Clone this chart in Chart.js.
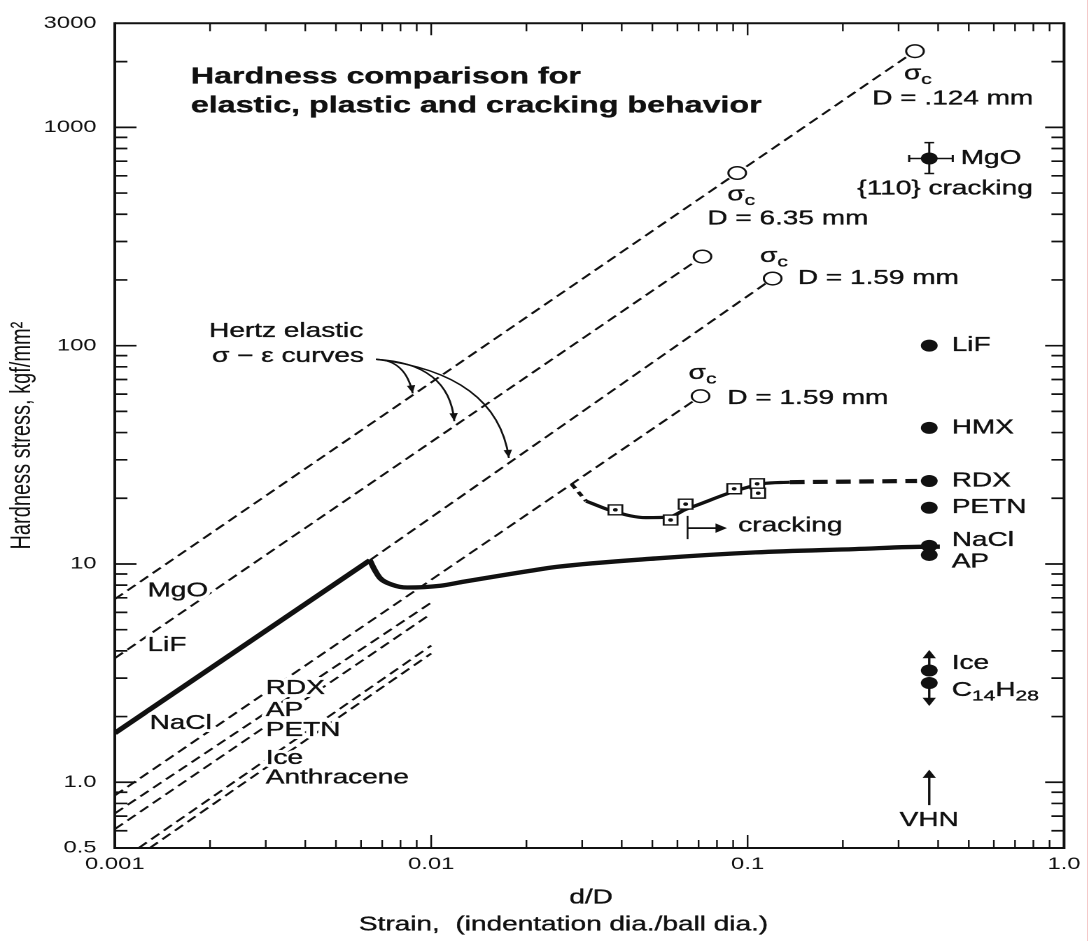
<!DOCTYPE html>
<html>
<head>
<meta charset="utf-8">
<title>Hardness comparison</title>
<script src="https://cdn.jsdelivr.net/npm/chart.js@4.4.1/dist/chart.umd.min.js"></script>
<style>
  html, body { margin: 0; padding: 0; background: #fff; overflow: hidden; }
  /* the scanned figure is stretched sideways, so the canvas is too */
  #wrap { width: 778px; height: 941px; transform: scaleX(1.3997); transform-origin: 0 0; }
  #edge { position: absolute; left: 1087px; top: 0; width: 1px; height: 941px; background: #f4c9c9; }
</style>
</head>
<body>
<div id="wrap"><canvas id="chart" width="778" height="941"></canvas></div>
<div id="edge"></div>
<script>
// axis ticks
const xTickValues = [0.001, 0.01, 0.1, 1];
const xTickLabels = ['0.001', '0.01', '0.1', '1.0'];
const yTickValues = [0.5, 1, 10, 100, 1000, 3000];
const yTickLabels = ['0.5', '1.0', '10', '100', '1000', '3000'];

// hertz elastic lines, [d/D, stress kgf/mm2]
const hertzMgO = [[0.001, 6.9], [0.338, 2234]];
const hertzLiF = [[0.001, 3.7], [0.072, 256]];
const hertzNaCl = [[0.0064, 10.4], [0.12, 203]];
const hertzRDX = [[0.001, 0.87], [0.071, 58.7]];
const hertzAP = [[0.001, 0.72], [0.01, 6.65]];
const hertzPETN = [[0.001, 0.61], [0.01, 5.92]];
const hertzIce = [[0.00119, 0.5], [0.01, 4.23]];
const hertzAnthracene = [[0.00129, 0.5], [0.01, 3.89]];

// critical cracking stresses (open circles)
const crackStrain = [0.338, 0.0927, 0.072, 0.12, 0.071];
const crackStress = [2234, 618, 256, 203, 58.7];

// NaCl: elastic loading, then the plastic hardness curve
const naclElastic = [[0.001, 1.68], [0.0064, 10.4]];
const naclPlastic = [[0.0064, 10.4], [0.0066, 9.5], [0.0069, 8.6], [0.0075, 8.05], [0.0084, 7.8],
  [0.0107, 7.95], [0.0127, 8.3], [0.0205, 9.3], [0.0249, 9.7], [0.0513, 10.6], [0.106, 11.3],
  [0.218, 11.7], [0.375, 12.0], [0.405, 12.0]];

// RDX ball indentation data and curve
const rdxLead = [[0.0278, 23.2], [0.0309, 19.4]];
const rdxCurve = [[0.0309, 19.4], [0.0382, 17.3], [0.0477, 16.3], [0.0564, 16.4], [0.0637, 17.8],
  [0.0685, 18.5], [0.0914, 21.6], [0.111, 23.3], [0.136, 23.7]];
const rdxTail = [[0.136, 23.7], [0.343, 24.0]];
const rdxSquares = [[0.0382, 17.7], [0.0571, 15.9], [0.0637, 18.8], [0.0907, 22.1], [0.1072, 23.3], [0.108, 21.1]];

// vickers hardness numbers, plotted at one strain
const vhnStrain = 0.375;
const vhnMaterials = ['MgO', 'LiF', 'HMX', 'RDX', 'PETN', 'NaCl', 'AP', 'Ice', 'C_{14}H_{28}'];
const vhnValues = [720, 100, 42, 24, 18.1, 12.1, 11.0, 3.25, 2.85];
const mgoStressRange = [615, 851];
const mgoStrainRange = [0.324, 0.445];

const INK = '#111';
const FONT = "'Liberation Sans', Arial, Helvetica, sans-serif";

// where the text goes, in data units
const vhnLabelY = { LiF: 100, HMX: 42, RDX: 24, PETN: 18.1, NaCl: 12.8, AP: 10.2, Ice: 3.5, 'C_{14}H_{28}': 2.63 };
const notes = [
  { text: 'Hardness comparison for', x: 0.00174, y: 1698, bold: true, size: 23 },
  { text: 'elastic, plastic and cracking behavior', x: 0.00174, y: 1252, bold: true, size: 23 },
  { text: 'σ_c', x: 0.312, y: 1754 },
  { text: 'D = .124 mm', x: 0.2477, y: 1348 },
  { text: 'σ_c', x: 0.0863, y: 491 },
  { text: 'D = 6.35 mm', x: 0.0746, y: 381 },
  { text: 'σ_c', x: 0.1095, y: 256 },
  { text: 'D = 1.59 mm', x: 0.1441, y: 203 },
  { text: 'σ_c', x: 0.0651, y: 74.7 },
  { text: 'D = 1.59 mm', x: 0.0863, y: 57.4 },
  { text: 'MgO', x: 0.4716, y: 720 },
  { text: '{110} cracking', x: 0.2223, y: 523 },
  { text: 'VHN', x: vhnStrain, y: 0.67, align: 'center' },
  { text: 'cracking', x: 0.0934, y: 14.9 },
  { text: 'Hertz elastic', x: 0.001987, y: 116 },
  { text: 'σ − ε curves', x: 0.00203, y: 89.4 },
  { text: 'MgO', x: 0.001269, y: 7.54 },
  { text: 'LiF', x: 0.001269, y: 4.23 },
  { text: 'NaCl', x: 0.001288, y: 1.862 },
  { text: 'RDX', x: 0.003, y: 2.69 },
  { text: 'AP', x: 0.003, y: 2.135 },
  { text: 'PETN', x: 0.003, y: 1.73 },
  { text: 'Ice', x: 0.003, y: 1.288 },
  { text: 'Anthracene', x: 0.003, y: 1.044 },
  { text: 'd/D', x: 0.032, y: 0.2955, align: 'center' },
  { text: 'Strain,  (indentation dia./ball dia.)', x: 0.0262, y: 0.2225, align: 'center' }
];
vhnMaterials.slice(1).forEach(m => notes.push({ text: m, x: 0.4416, y: vhnLabelY[m] }));

// curved pointers from "Hertz elastic" to three of the lines
const hertzNoteFrom = [0.00669, 86.6];
const hertzNoteBends = [[0.0083, 86], [0.0114, 83], [0.0161, 74.7]];
const hertzNoteTips = [[0.00874, 60.5], [0.01183, 45.1], [0.0176, 30.6]];

const pts = arr => arr.map(([x, y]) => ({ x, y }));

function lineSet(points, width, dash, smooth) {
  return {
    data: pts(points), showLine: true, borderColor: INK, borderWidth: width,
    borderDash: dash || [], pointRadius: 0, fill: false,
    cubicInterpolationMode: smooth ? 'monotone' : 'default'
  };
}

// a shaft with a triangle head on its second point
function arrowSet(points, rotation) {
  return {
    data: pts(points), showLine: true, borderColor: INK, borderWidth: 1.7,
    pointRadius: [0, 4.5], pointStyle: 'triangle', pointRotation: rotation,
    pointBackgroundColor: INK, pointBorderColor: INK, pointBorderWidth: 1
  };
}

function capSet(points, rotation) {
  return {
    data: pts(points), showLine: true, borderColor: INK, borderWidth: 1.5,
    pointRadius: 3.5, pointStyle: 'line', pointRotation: rotation,
    pointBorderColor: INK, pointBorderWidth: 1.5
  };
}

const hertzDash = [8, 4.5];

// first dataset is drawn on top
const datasets = [
  { data: pts(rdxSquares), showLine: false, pointRadius: 1.7, pointBackgroundColor: INK, pointBorderWidth: 0 },
  { data: pts(rdxSquares), showLine: false, pointStyle: 'rect', pointRadius: 7,
    pointBackgroundColor: '#fff', pointBorderColor: INK, pointBorderWidth: 1.4 },
  { data: crackStrain.map((x, i) => ({ x, y: crackStress[i] })), showLine: false, pointRadius: 6.3,
    pointBackgroundColor: '#fff', pointBorderColor: INK, pointBorderWidth: 1.5 },
  { data: vhnValues.map(y => ({ x: vhnStrain, y })), showLine: false, pointRadius: 6,
    pointBackgroundColor: INK, pointBorderColor: INK, pointBorderWidth: 0 },
  capSet([[vhnStrain, mgoStressRange[0]], [vhnStrain, mgoStressRange[1]]], 0),
  capSet([[mgoStrainRange[0], vhnValues[0]], [mgoStrainRange[1], vhnValues[0]]], 90),
  arrowSet([[vhnStrain, 3.25], [vhnStrain, 3.81]], 0),
  arrowSet([[vhnStrain, 2.85], [vhnStrain, 2.37]], 180),
  arrowSet([[vhnStrain, 0.786], [vhnStrain, 1.078]], 0),
  arrowSet([[0.0646, 14.6], [0.0814, 14.6]], 90),
  lineSet([[0.0646, 13.0], [0.0646, 16.6]], 1.3),
  lineSet(rdxLead, 3, [5, 4]),
  lineSet(rdxCurve, 3.2, null, true),
  lineSet(rdxTail, 4.2, [10.5, 6]),
  lineSet(naclPlastic, 4.3, null, true),
  lineSet(naclElastic, 4.4),
  lineSet(hertzMgO, 1.8, hertzDash),
  lineSet(hertzLiF, 1.8, hertzDash),
  lineSet(hertzNaCl, 1.8, hertzDash),
  lineSet(hertzRDX, 1.8, hertzDash),
  lineSet(hertzAP, 1.8, hertzDash),
  lineSet(hertzPETN, 1.8, hertzDash),
  lineSet(hertzIce, 1.8, hertzDash),
  lineSet(hertzAnthracene, 1.8, hertzDash)
];

// "σ_c", "C_{14}H_{28}" -> pieces with subscripts
function parseRich(text) {
  const parts = [];
  const re = /_\{([^}]*)\}|\^\{([^}]*)\}|_(\w)|([^_^]+)/g;
  let m;
  while ((m = re.exec(text))) {
    if (m[1] !== undefined) parts.push([m[1], 'sub']);
    else if (m[2] !== undefined) parts.push([m[2], 'sup']);
    else if (m[3] !== undefined) parts.push([m[3], 'sub']);
    else parts.push([m[4], '']);
  }
  return parts;
}

function drawNote(ctx, note, x, y) {
  const size = note.size || 20;
  const weight = note.bold ? 'bold ' : '';
  const fontFor = k => weight + (k ? Math.round(size * 0.75) : size) + 'px ' + FONT;
  const parts = parseRich(note.text);
  let total = 0;
  parts.forEach(([t, k]) => { ctx.font = fontFor(k); total += ctx.measureText(t).width; });
  const startX = note.align === 'center' ? x - total / 2 : x;
  ctx.textBaseline = 'middle';
  ctx.textAlign = 'left';
  ctx.lineJoin = 'round';
  ['halo', 'ink'].forEach(pass => {
    let px = startX;
    parts.forEach(([t, k]) => {
      ctx.font = fontFor(k);
      const dy = k === 'sub' ? size * 0.3 : (k === 'sup' ? -size * 0.4 : 0);
      if (pass === 'halo') {
        ctx.strokeStyle = '#fff';
        ctx.lineWidth = 6;
        ctx.strokeText(t, px, y + dy);
      } else {
        ctx.fillStyle = INK;
        ctx.strokeStyle = INK;
        ctx.lineWidth = 0.35;
        ctx.fillText(t, px, y + dy);
        ctx.strokeText(t, px, y + dy);
      }
      px += ctx.measureText(t).width;
    });
  });
}

const annotate = {
  id: 'annotate',
  afterDatasetsDraw(chart) {
    const { ctx, scales } = chart;
    const X = v => scales.x.getPixelForValue(v);
    const Y = v => scales.y.getPixelForValue(v);
    ctx.save();
    ctx.strokeStyle = INK;
    ctx.fillStyle = INK;
    ctx.lineWidth = 1.4;
    hertzNoteTips.forEach((tip, i) => {
      const sx = X(hertzNoteFrom[0]), sy = Y(hertzNoteFrom[1]);
      const cx = X(hertzNoteBends[i][0]), cy = Y(hertzNoteBends[i][1]);
      const tx = X(tip[0]), ty = Y(tip[1]);
      ctx.beginPath();
      ctx.moveTo(sx, sy);
      ctx.quadraticCurveTo(cx, cy, tx, ty);
      ctx.stroke();
      const a = Math.atan2(ty - cy, tx - cx);
      const c = Math.cos(a), s = Math.sin(a);
      ctx.beginPath();
      ctx.moveTo(tx, ty);
      ctx.lineTo(tx - 8 * c + 3 * s, ty - 8 * s - 3 * c);
      ctx.lineTo(tx - 8 * c - 3 * s, ty - 8 * s + 3 * c);
      ctx.closePath();
      ctx.fill();
    });
    notes.forEach(n => drawNote(ctx, n, X(n.x), Y(n.y)));
    ctx.restore();
  }
};

// frame with inward log ticks on all four sides
const minorSteps = [2, 3, 4, 5, 6, 7, 8, 9];
function logTicks(decades, min, max) {
  const out = [];
  decades.forEach(d => {
    out.push({ v: d, major: true });
    minorSteps.forEach(m => out.push({ v: d * m, major: false }));
  });
  return out.filter(t => t.v > min * 1.0001 && t.v < max * 0.9999);
}

const frame = {
  id: 'frame',
  afterDraw(chart) {
    const { ctx, chartArea: a, scales } = chart;
    ctx.save();
    ctx.strokeStyle = INK;
    ctx.lineCap = 'butt';
    logTicks([0.001, 0.01, 0.1], 0.001, 1).forEach(t => {
      const px = scales.x.getPixelForValue(t.v);
      ctx.lineWidth = 1.2;
      ctx.beginPath();
      ctx.moveTo(px, a.bottom); ctx.lineTo(px, a.bottom - (t.major ? 13 : 8));
      ctx.moveTo(px, a.top); ctx.lineTo(px, a.top + (t.major ? 12 : 8));
      ctx.stroke();
    });
    logTicks([0.1, 1, 10, 100, 1000], 0.5, 3000).forEach(t => {
      const py = scales.y.getPixelForValue(t.v);
      ctx.lineWidth = 1.7;
      ctx.beginPath();
      ctx.moveTo(a.left, py); ctx.lineTo(a.left + (t.major ? 15.5 : 9), py);
      ctx.moveTo(a.right, py); ctx.lineTo(a.right - (t.major ? 13.5 : 9), py);
      ctx.stroke();
    });
    ctx.lineWidth = 2;
    ctx.beginPath();
    ctx.moveTo(a.left, a.top); ctx.lineTo(a.right, a.top);
    ctx.moveTo(a.left, a.bottom); ctx.lineTo(a.right, a.bottom);
    ctx.stroke();
    ctx.lineWidth = 2;
    ctx.beginPath();
    ctx.moveTo(a.left, a.top - 1); ctx.lineTo(a.left, a.bottom + 1);
    ctx.moveTo(a.right, a.top - 1); ctx.lineTo(a.right, a.bottom + 1);
    ctx.stroke();
    ctx.restore();
  }
};

const tickFont = { family: FONT, size: 17 };

new Chart(document.getElementById('chart'), {
  type: 'scatter',
  data: { datasets: datasets },
  options: {
    responsive: false,
    devicePixelRatio: 2,
    animation: false,
    events: [],
    layout: { padding: { top: 21, right: 13, left: 0, bottom: 0 }, autoPadding: false },
    plugins: { legend: { display: false }, tooltip: { enabled: false } },
    scales: {
      x: {
        type: 'logarithmic', min: 0.001, max: 1, position: 'bottom',
        afterBuildTicks: s => { s.ticks = xTickValues.map(v => ({ value: v })); },
        afterFit: s => { s.height = 93; },
        ticks: { callback: (v, i) => xTickLabels[i], font: tickFont, color: INK, padding: 6, maxRotation: 0, autoSkip: false },
        grid: { display: false, drawTicks: false },
        border: { display: false }
      },
      y: {
        type: 'logarithmic', min: 0.5, max: 3000, position: 'left',
        afterBuildTicks: s => { s.ticks = yTickValues.map(v => ({ value: v })); },
        afterFit: s => { s.width = 82; },
        ticks: { callback: (v, i) => yTickLabels[i], font: tickFont, color: INK, padding: 13, autoSkip: false },
        grid: { display: false, drawTicks: false },
        border: { display: false },
        title: { display: true, text: 'Hardness stress, kgf/mm²', font: { family: FONT, size: 20 }, color: INK, padding: { top: 4, bottom: 0 } }
      }
    }
  },
  plugins: [annotate, frame]
});
</script>
</body>
</html>
